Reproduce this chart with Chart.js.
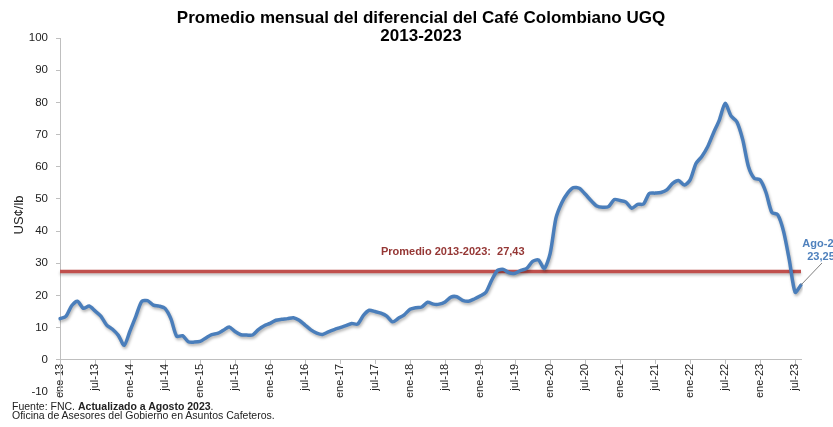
<!DOCTYPE html>
<html>
<head>
<meta charset="utf-8">
<script src="https://cdn.jsdelivr.net/npm/chart.js@4.4.0/dist/chart.umd.min.js"></script>
<style>
  body { margin: 0; background: #fff; font-family: "Liberation Sans", Arial, sans-serif; }
  #wrap { position: relative; width: 833px; height: 427px; overflow: hidden; }
  #titulo { position: absolute; left: 0; top: 9px; width: 842px; text-align: center;
            font-weight: bold; font-size: 17px; line-height: 18px; color: #000; }
  .fuente { position: absolute; left: 12px; font-size: 10.5px; line-height: 10px; color: #222; white-space: nowrap; }
</style>
</head>
<body>
<div id="wrap">
  <canvas id="grafico" width="833" height="427"></canvas>
  <div id="titulo">Promedio mensual del diferencial del Café Colombiano UGQ<br>2013-2023</div>
  <div class="fuente" style="top:401px">Fuente: FNC. <b>Actualizado a Agosto 2023</b>.</div>
  <div class="fuente" style="top:410px">Oficina de Asesores del Gobierno en Asuntos Cafeteros.</div>
</div>
<script>
// diferencial mensual, US¢/lb, ene-2013 .. ago-2023
const mesesCortos = ['ene', 'feb', 'mar', 'abr', 'may', 'jun', 'jul', 'ago', 'sep', 'oct', 'nov', 'dic'];
const anios = ['13', '14', '15', '16', '17', '18', '19', '20', '21', '22', '23'];

const diferencial = [
  12.8, 13.5, 16.8, 18.2, 16.0, 16.7, 15.2, 13.6, 10.8, 9.5, 7.6, 4.5,      // 2013
  9.0, 13.5, 18.1, 18.4, 17.0, 16.7, 16.0, 12.8, 7.3, 7.5, 5.6, 5.5,        // 2014
  5.7, 6.8, 7.8, 8.2, 9.2, 10.2, 8.8, 7.8, 7.7, 7.7, 9.4, 10.6,             // 2015
  11.3, 12.3, 12.6, 12.8, 13.1, 12.3, 10.8, 9.3, 8.3, 7.9, 8.7, 9.4,        // 2016
  10.0, 10.6, 11.3, 11.1, 13.8, 15.4, 15.0, 14.5, 13.6, 11.8, 12.9, 14.0,   // 2017
  15.7, 16.2, 16.4, 17.9, 17.3, 17.3, 18.0, 19.5, 19.6, 18.5, 18.2, 18.9,   // 2018
  19.8, 21.0, 24.8, 27.8, 28.1, 27.0, 26.9, 27.8, 28.4, 30.6, 31.0, 28.4,   // 2019
  33.0, 44.0, 48.8, 51.8, 53.5, 53.3, 51.5, 49.5, 47.8, 47.4, 47.6, 49.8,   // 2020
  49.5, 49.0, 47.1, 48.3, 48.4, 51.7, 51.8, 52.0, 52.8, 54.8, 55.7, 54.3,   // 2021
  55.9, 61.0, 63.2, 66.2, 70.5, 74.5, 79.7, 75.8, 74.0, 68.5, 60.0, 56.4,   // 2022
  55.9, 52.0, 45.8, 45.1, 40.0, 31.0, 21.0, 23.25                           // 2023
];

const promedio = 27.43;
const etiquetaPromedio = 'Promedio 2013-2023:  27,43';
const etiquetaFinal = 'Ago-23';

const meses = [];
anios.forEach(a => mesesCortos.forEach(m => meses.push(m + '-' + a)));
meses.length = diferencial.length;

const colorTexto = '#222';
const colorEje = '#bfbfbf';

// linea del promedio, etiquetas y sombra de la serie
const anotaciones = {
  id: 'anotaciones',
  beforeDatasetsDraw(chart) {
    const { ctx, chartArea, scales: { x, y } } = chart;
    const yp = y.getPixelForValue(promedio);
    const xFin = x.getPixelForValue(meses.length - 1);
    ctx.save();
    ctx.shadowColor = 'rgba(0,0,0,0.25)';
    ctx.shadowBlur = 3;
    ctx.shadowOffsetY = 2;
    ctx.strokeStyle = '#C0504D';
    ctx.lineWidth = 3.5;
    ctx.beginPath();
    ctx.moveTo(chartArea.left, yp);
    ctx.lineTo(xFin, yp);
    ctx.stroke();
    ctx.restore();
  },
  beforeDatasetDraw(chart) {
    const ctx = chart.ctx;
    ctx.save();
    ctx.shadowColor = 'rgba(0,0,0,0.3)';
    ctx.shadowBlur = 3;
    ctx.shadowOffsetX = 1;
    ctx.shadowOffsetY = 2;
  },
  afterDatasetDraw(chart) {
    chart.ctx.restore();
  },
  afterDatasetsDraw(chart) {
    const { ctx, scales: { x, y } } = chart;
    const yp = y.getPixelForValue(promedio);
    ctx.save();
    ctx.font = 'bold 11px "Liberation Sans", Arial, sans-serif';
    ctx.fillStyle = '#953735';
    ctx.textBaseline = 'middle';
    ctx.textAlign = 'left';
    ctx.fillText(etiquetaPromedio, x.getPixelForValue(55), yp - 20);

    const ult = diferencial.length - 1;
    const xu = x.getPixelForValue(ult);
    const yu = y.getPixelForValue(diferencial[ult]);
    ctx.strokeStyle = '#7f7f7f';
    ctx.lineWidth = 1;
    ctx.beginPath();
    ctx.moveTo(xu, yu);
    ctx.lineTo(xu + 21, yu - 22);
    ctx.stroke();
    ctx.fillStyle = '#4F81BD';
    ctx.textAlign = 'center';
    ctx.fillText(etiquetaFinal, xu + 20, yu - 41);
    ctx.fillText(diferencial[ult].toFixed(2).replace('.', ','), xu + 20, yu - 28);
    ctx.restore();
  }
};

new Chart(document.getElementById('grafico'), {
  type: 'line',
  data: {
    labels: meses,
    datasets: [{
      data: diferencial,
      borderColor: '#4A7EBB',
      borderWidth: 3.5,
      pointRadius: 0,
      tension: 0.25,
      borderJoinStyle: 'round',
      borderCapStyle: 'round',
      fill: false
    }]
  },
  options: {
    responsive: false,
    animation: false,
    devicePixelRatio: 1,
    layout: { padding: { left: 10, top: 38, right: 32, bottom: 35 } },
    plugins: { legend: { display: false }, tooltip: { enabled: false } },
    scales: {
      x: {
        position: { y: 0 },
        offset: false,
        grid: { drawOnChartArea: false, tickLength: 4, color: colorEje },
        border: { color: colorEje },
        ticks: {
          autoSkip: false,
          maxRotation: 90,
          minRotation: 90,
          padding: 0,
          color: colorTexto,
          font: { family: '"Liberation Sans", Arial, sans-serif', size: 11 },
          callback: (v, i) => (i % 6 === 0 ? meses[i] : null)
        }
      },
      y: {
        min: -10,
        max: 100,
        afterFit: s => { s.width = 50; },
        grid: { drawOnChartArea: false, tickLength: 4, color: colorEje },
        border: { color: colorEje },
        ticks: {
          stepSize: 10,
          padding: 8,
          color: colorTexto,
          font: { family: '"Liberation Sans", Arial, sans-serif', size: 11.5 }
        },
        title: {
          display: true,
          text: 'US¢/lb',
          color: colorTexto,
          padding: { top: 2, bottom: 0 },
          font: { family: '"Liberation Sans", Arial, sans-serif', size: 13 }
        }
      }
    }
  },
  plugins: [anotaciones]
});
</script>
</body>
</html>
